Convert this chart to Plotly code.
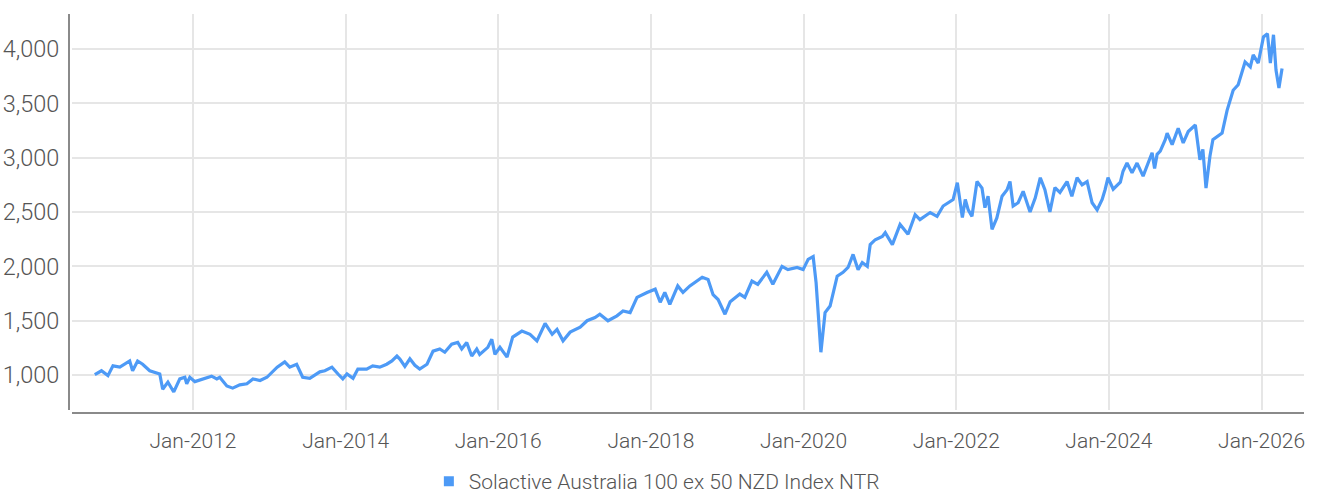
import plotly.graph_objects as go

SERIES_NAME = "Solactive Australia 100 ex 50 NZD Index NTR"

dates = [
    "2010-09-18", "2010-10-20", "2010-11-20", "2010-12-14", "2011-01-16", "2011-02-09",
    "2011-03-04", "2011-03-18", "2011-04-11", "2011-05-05", "2011-06-08", "2011-07-26",
    "2011-08-09", "2011-09-03", "2011-10-01", "2011-10-30", "2011-11-23", "2011-12-02",
    "2011-12-17", "2012-01-10", "2012-02-17", "2012-03-30", "2012-04-24", "2012-05-08",
    "2012-06-11", "2012-07-09", "2012-08-12", "2012-09-15", "2012-10-14", "2012-11-17",
    "2012-12-20", "2013-02-07", "2013-03-15", "2013-04-08", "2013-05-11", "2013-06-09",
    "2013-07-13", "2013-08-30", "2013-09-23", "2013-10-27", "2013-11-25", "2013-12-18",
    "2014-01-07", "2014-02-05", "2014-02-28", "2014-04-11", "2014-05-10", "2014-06-13",
    "2014-07-16", "2014-08-10", "2014-09-03", "2014-09-17", "2014-10-11", "2014-11-04",
    "2014-11-28", "2014-12-21", "2015-01-25", "2015-02-23", "2015-03-27", "2015-04-20",
    "2015-05-23", "2015-06-21", "2015-07-10", "2015-08-03", "2015-08-27", "2015-09-20",
    "2015-10-04", "2015-11-12", "2015-12-01", "2015-12-16", "2016-01-09", "2016-02-12",
    "2016-03-10", "2016-04-23", "2016-06-01", "2016-07-04", "2016-08-12", "2016-09-15",
    "2016-10-08", "2016-11-06", "2016-12-10", "2017-01-27", "2017-03-01", "2017-04-08",
    "2017-05-01", "2017-06-09", "2017-07-22", "2017-08-20", "2017-09-23", "2017-10-26",
    "2017-12-13", "2018-01-21", "2018-02-14", "2018-03-08", "2018-04-01", "2018-05-09",
    "2018-06-03", "2018-07-06", "2018-09-03", "2018-10-01", "2018-10-25", "2018-11-18",
    "2018-12-21", "2019-01-15", "2019-03-02", "2019-03-26", "2019-04-29", "2019-05-27",
    "2019-07-09", "2019-08-07", "2019-09-20", "2019-10-18", "2019-12-01", "2019-12-30",
    "2020-01-23", "2020-02-16", "2020-03-01", "2020-03-24", "2020-04-13", "2020-05-07",
    "2020-06-10", "2020-07-08", "2020-08-01", "2020-08-25", "2020-09-18", "2020-10-08",
    "2020-11-01", "2020-11-15", "2020-12-09", "2021-01-12", "2021-01-26", "2021-03-01",
    "2021-04-07", "2021-05-15", "2021-06-18", "2021-07-11", "2021-08-29", "2021-10-01",
    "2021-10-30", "2021-12-03", "2021-12-17", "2022-01-06", "2022-01-30", "2022-02-13",
    "2022-02-27", "2022-03-17", "2022-04-10", "2022-05-04", "2022-05-18", "2022-06-02",
    "2022-06-21", "2022-07-14", "2022-08-08", "2022-09-01", "2022-09-15", "2022-09-30",
    "2022-10-24", "2022-11-17", "2022-12-20", "2023-01-14", "2023-02-07", "2023-03-01",
    "2023-03-25", "2023-04-18", "2023-05-12", "2023-06-15", "2023-07-08", "2023-08-02",
    "2023-08-26", "2023-09-19", "2023-10-13", "2023-11-06", "2023-11-30", "2023-12-14",
    "2023-12-28", "2024-01-22", "2024-02-25", "2024-03-09", "2024-03-28", "2024-04-21",
    "2024-05-15", "2024-06-13", "2024-07-07", "2024-07-26", "2024-08-07", "2024-08-19",
    "2024-09-03", "2024-09-27", "2024-10-06", "2024-10-30", "2024-11-28", "2024-12-22",
    "2025-01-15", "2025-02-18", "2025-03-12", "2025-03-26", "2025-04-10", "2025-04-29",
    "2025-05-13", "2025-06-07", "2025-06-26", "2025-07-20", "2025-08-18", "2025-09-11",
    "2025-10-14", "2025-11-08", "2025-11-22", "2025-12-16", "2026-01-10", "2026-01-29",
    "2026-02-12", "2026-02-27", "2026-03-11", "2026-03-25", "2026-04-09",
]

index_values = [
    1005, 1040, 995, 1085, 1073, 1100,
    1130, 1040, 1130, 1100, 1040, 1010,
    870, 935, 845, 965, 980, 920,
    980, 940, 965, 990, 965, 980,
    900, 880, 910, 920, 965, 950,
    980, 1073, 1122, 1073, 1100, 980,
    970, 1030, 1040, 1073, 1010, 965,
    1010, 970, 1055, 1055, 1085, 1073,
    1100, 1130, 1175, 1147, 1080, 1150,
    1090, 1055, 1100, 1220, 1240, 1210,
    1285, 1300, 1240, 1300, 1175, 1240,
    1190, 1255, 1330, 1190, 1255, 1165,
    1350, 1405, 1375, 1315, 1475, 1375,
    1420, 1315, 1395, 1440, 1500, 1530,
    1560, 1500, 1545, 1590, 1575, 1715,
    1760, 1790, 1670, 1760, 1650, 1820,
    1760, 1820, 1900, 1880, 1740, 1695,
    1560, 1675, 1745, 1715, 1865, 1835,
    1945, 1835, 2000, 1970, 1990, 1970,
    2065, 2090, 1850, 1210, 1575, 1635,
    1910, 1945, 1990, 2110, 1970, 2035,
    2000, 2200, 2245, 2275, 2310, 2200,
    2385, 2295, 2475, 2430, 2495, 2460,
    2555, 2600, 2615, 2770, 2450, 2615,
    2520, 2460, 2780, 2720, 2540, 2645,
    2340, 2445, 2645, 2705, 2780, 2555,
    2585, 2690, 2500, 2630, 2815, 2705,
    2500, 2725, 2680, 2780, 2645, 2815,
    2750, 2780, 2585, 2520, 2615, 2705,
    2815, 2710, 2775, 2875, 2950, 2860,
    2950, 2830, 2950, 3045, 2900, 3030,
    3060, 3165, 3225, 3120, 3270, 3135,
    3240, 3300, 2980, 3075, 2720, 3015,
    3165, 3195, 3225, 3435, 3620, 3670,
    3880, 3835, 3945, 3870, 4110, 4140,
    3870, 4130, 3805, 3640, 3820,
]

x_range = ["2010-06-01", "2026-07-23"]
y_range = [679, 4321]
y_ticks = [1000, 1500, 2000, 2500, 3000, 3500, 4000]

LINE_COLOR = "#4d9af6"
GRID_COLOR = "#e6e6e6"
AXIS_COLOR = "#8a8a8a"
TEXT_COLOR = "#555555"
FONT = "Roboto, sans-serif"

fig = go.Figure()
fig.add_trace(go.Scatter(
    x=dates, y=index_values, mode="lines",
    line=dict(color=LINE_COLOR, width=3.2),
    showlegend=False, name=SERIES_NAME,
))
fig.add_trace(go.Scatter(
    x=[None], y=[None], mode="markers",
    marker=dict(symbol="square", size=10, color=LINE_COLOR),
    name=SERIES_NAME, showlegend=True,
))

W, H = 1317, 498
ml, mr, mt, mb = 69, 13, 14, 85
pw = W - ml - mr
ph = H - mt - mb

y_font = dict(family=FONT, size=23.5, color=TEXT_COLOR, weight=300)
x_font = dict(family=FONT, size=21, color=TEXT_COLOR, weight=300)
legend_font = dict(family=FONT, size=21, color=TEXT_COLOR, weight=300)

fig.update_layout(
    width=W, height=H,
    margin=dict(l=ml, r=mr, t=mt, b=mb, autoexpand=False),
    paper_bgcolor="white", plot_bgcolor="white",
    font=dict(family=FONT, color=TEXT_COLOR, size=21, weight=300),
    xaxis=dict(
        type="date", range=x_range, domain=[3 / pw, 1],
        anchor="free", position=0, automargin=False,
        tick0="2012-01-01", dtick="M24", tickformat="%b-%Y",
        showgrid=True, gridcolor=GRID_COLOR, gridwidth=2,
        showline=True, linecolor=AXIS_COLOR, linewidth=2,
        ticks="outside", ticklen=9, tickcolor="rgba(0,0,0,0)",
        tickfont=x_font, zeroline=False,
    ),
    yaxis=dict(
        range=y_range, domain=[3 / ph, 1],
        anchor="free", position=0, automargin=False,
        tickvals=y_ticks, tickformat=",d",
        showgrid=True, gridcolor=GRID_COLOR, gridwidth=2,
        showline=True, linecolor=AXIS_COLOR, linewidth=2,
        ticks="outside", ticklen=4, tickcolor="rgba(0,0,0,0)",
        tickfont=y_font, zeroline=False,
    ),
    legend=dict(
        orientation="h", x=0.476, xanchor="center", y=-0.172, yanchor="middle",
        font=legend_font, itemwidth=30,
        bgcolor="rgba(0,0,0,0)",
    ),
)

fig.write_html(
    "out.html",
    config={"displayModeBar": False},
    post_script="document.body.style.margin='0';document.body.style.overflow='hidden';",
)
